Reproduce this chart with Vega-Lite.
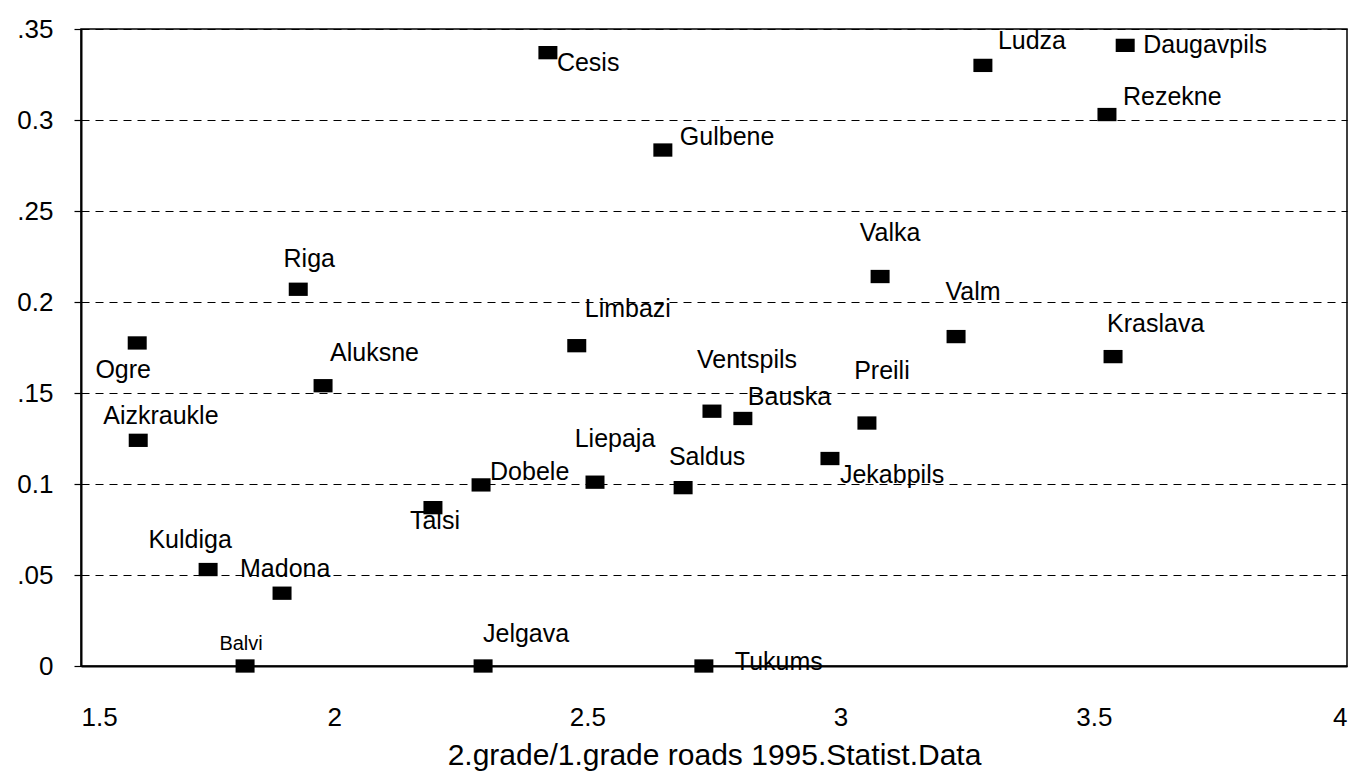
{
  "$schema": "https://vega.github.io/schema/vega-lite/v6.json",
  "width": 1266,
  "height": 637,
  "autosize": "none",
  "padding": {"left": 81, "top": 29, "right": 3, "bottom": 105},
  "background": "white",
  "config": {
    "view": {"stroke": "black", "strokeWidth": 1.5},
    "font": "Liberation Sans",
    "text": {"font": "Liberation Sans", "fontSize": 25, "color": "black"}
  },
  "data": {
    "values": [
      {"name": "Cesis", "x": 2.422, "y": 0.337},
      {"name": "Ludza", "x": 3.281, "y": 0.330},
      {"name": "Daugavpils", "x": 3.562, "y": 0.341},
      {"name": "Rezekne", "x": 3.526, "y": 0.303},
      {"name": "Gulbene", "x": 2.649, "y": 0.2835},
      {"name": "Valka", "x": 3.078, "y": 0.214},
      {"name": "Riga", "x": 1.929, "y": 0.207},
      {"name": "Valm", "x": 3.228, "y": 0.181},
      {"name": "Kraslava", "x": 3.538, "y": 0.170},
      {"name": "Ogre", "x": 1.611, "y": 0.1775},
      {"name": "Limbazi", "x": 2.479, "y": 0.176},
      {"name": "Aluksne", "x": 1.978, "y": 0.154},
      {"name": "Ventspils", "x": 2.746, "y": 0.140},
      {"name": "Bauska", "x": 2.807, "y": 0.136},
      {"name": "Preili", "x": 3.052, "y": 0.1335},
      {"name": "Aizkraukle", "x": 1.613, "y": 0.124},
      {"name": "Jekabpils", "x": 2.979, "y": 0.114},
      {"name": "Dobele", "x": 2.290, "y": 0.0995},
      {"name": "Liepaja", "x": 2.515, "y": 0.101},
      {"name": "Saldus", "x": 2.689, "y": 0.098},
      {"name": "Talsi", "x": 2.195, "y": 0.087},
      {"name": "Kuldiga", "x": 1.751, "y": 0.053},
      {"name": "Madona", "x": 1.897, "y": 0.040},
      {"name": "Balvi", "x": 1.824, "y": 0.0},
      {"name": "Jelgava", "x": 2.294, "y": 0.0},
      {"name": "Tukums", "x": 2.730, "y": 0.0}
    ]
  },
  "encoding": {
    "x": {
      "field": "x", "type": "quantitative",
      "scale": {"domain": [1.5, 4], "nice": false, "zero": false},
      "axis": {
        "values": [1.5, 2, 2.5, 3, 3.5, 4],
        "format": "~g",
        "grid": false, "ticks": false, "tickSize": 0,
        "domain": true, "domainColor": "black", "domainWidth": 2,
        "labelFontSize": 26, "labelColor": "black", "labelPadding": 38,
        "labelFont": "Liberation Sans",
        "title": "2.grade/1.grade roads 1995.Statist.Data",
        "titleFontSize": 30, "titleFontWeight": "normal", "titleColor": "black",
        "titleFont": "Liberation Sans", "titlePadding": 10
      }
    },
    "y": {
      "field": "y", "type": "quantitative",
      "scale": {"domain": [0, 0.35], "nice": false},
      "axis": {
        "values": [0, 0.05, 0.1, 0.15, 0.2, 0.25, 0.3, 0.35],
        "grid": true, "gridDash": [8, 6], "gridColor": "black", "gridWidth": 1.2,
        "ticks": true, "tickSize": 7, "tickColor": "black", "tickWidth": 1.2,
        "domain": true, "domainColor": "black", "domainWidth": 2,
        "labelFontSize": 26, "labelColor": "black", "labelPadding": 21,
        "labelFont": "Liberation Sans",
        "labelExpr": "datum.value == 0 ? '0' : (round(datum.value*100) % 10 == 5 ? replace(format(datum.value, '.2f'), '0.', '.') : format(datum.value, '.1f'))",
        "title": null
      }
    }
  },
  "layer": [
    {
      "mark": {"type": "point", "shape": "M-1,-0.7H1V0.7H-1Z", "size": 361, "filled": true, "color": "black", "opacity": 1, "strokeWidth": 0}
    },
    {"transform": [{"filter": "datum.name == 'Cesis'"}], "mark": {"type": "text", "align": "left", "baseline": "alphabetic", "dx": 9, "dy": 18}, "encoding": {"text": {"field": "name"}}},
    {"transform": [{"filter": "datum.name == 'Ludza'"}], "mark": {"type": "text", "align": "left", "baseline": "alphabetic", "dx": 15, "dy": -16}, "encoding": {"text": {"field": "name"}}},
    {"transform": [{"filter": "datum.name == 'Daugavpils'"}], "mark": {"type": "text", "align": "left", "baseline": "alphabetic", "dx": 18, "dy": 8}, "encoding": {"text": {"field": "name"}}},
    {"transform": [{"filter": "datum.name == 'Rezekne'"}], "mark": {"type": "text", "align": "left", "baseline": "alphabetic", "dx": 16, "dy": -10}, "encoding": {"text": {"field": "name"}}},
    {"transform": [{"filter": "datum.name == 'Gulbene'"}], "mark": {"type": "text", "align": "left", "baseline": "alphabetic", "dx": 17, "dy": -5}, "encoding": {"text": {"field": "name"}}},
    {"transform": [{"filter": "datum.name == 'Valka'"}], "mark": {"type": "text", "align": "center", "baseline": "alphabetic", "dx": 10, "dy": -36}, "encoding": {"text": {"field": "name"}}},
    {"transform": [{"filter": "datum.name == 'Riga'"}], "mark": {"type": "text", "align": "center", "baseline": "alphabetic", "dx": 11, "dy": -22}, "encoding": {"text": {"field": "name"}}},
    {"transform": [{"filter": "datum.name == 'Valm'"}], "mark": {"type": "text", "align": "center", "baseline": "alphabetic", "dx": 17, "dy": -37}, "encoding": {"text": {"field": "name"}}},
    {"transform": [{"filter": "datum.name == 'Kraslava'"}], "mark": {"type": "text", "align": "left", "baseline": "alphabetic", "dx": -6, "dy": -25}, "encoding": {"text": {"field": "name"}}},
    {"transform": [{"filter": "datum.name == 'Ogre'"}], "mark": {"type": "text", "align": "center", "baseline": "alphabetic", "dx": -14, "dy": 35}, "encoding": {"text": {"field": "name"}}},
    {"transform": [{"filter": "datum.name == 'Limbazi'"}], "mark": {"type": "text", "align": "left", "baseline": "alphabetic", "dx": 8, "dy": -29}, "encoding": {"text": {"field": "name"}}},
    {"transform": [{"filter": "datum.name == 'Aluksne'"}], "mark": {"type": "text", "align": "left", "baseline": "alphabetic", "dx": 7, "dy": -25}, "encoding": {"text": {"field": "name"}}},
    {"transform": [{"filter": "datum.name == 'Ventspils'"}], "mark": {"type": "text", "align": "center", "baseline": "alphabetic", "dx": 35, "dy": -43}, "encoding": {"text": {"field": "name"}}},
    {"transform": [{"filter": "datum.name == 'Bauska'"}], "mark": {"type": "text", "align": "left", "baseline": "alphabetic", "dx": 5, "dy": -13}, "encoding": {"text": {"field": "name"}}},
    {"transform": [{"filter": "datum.name == 'Preili'"}], "mark": {"type": "text", "align": "center", "baseline": "alphabetic", "dx": 15, "dy": -44}, "encoding": {"text": {"field": "name"}}},
    {"transform": [{"filter": "datum.name == 'Aizkraukle'"}], "mark": {"type": "text", "align": "left", "baseline": "alphabetic", "dx": -35, "dy": -16}, "encoding": {"text": {"field": "name"}}},
    {"transform": [{"filter": "datum.name == 'Jekabpils'"}], "mark": {"type": "text", "align": "left", "baseline": "alphabetic", "dx": 10, "dy": 24}, "encoding": {"text": {"field": "name"}}},
    {"transform": [{"filter": "datum.name == 'Dobele'"}], "mark": {"type": "text", "align": "left", "baseline": "alphabetic", "dx": 9, "dy": -5}, "encoding": {"text": {"field": "name"}}},
    {"transform": [{"filter": "datum.name == 'Liepaja'"}], "mark": {"type": "text", "align": "center", "baseline": "alphabetic", "dx": 20, "dy": -35}, "encoding": {"text": {"field": "name"}}},
    {"transform": [{"filter": "datum.name == 'Saldus'"}], "mark": {"type": "text", "align": "center", "baseline": "alphabetic", "dx": 24, "dy": -23}, "encoding": {"text": {"field": "name"}}},
    {"transform": [{"filter": "datum.name == 'Talsi'"}], "mark": {"type": "text", "align": "center", "baseline": "alphabetic", "dx": 2, "dy": 21}, "encoding": {"text": {"field": "name"}}},
    {"transform": [{"filter": "datum.name == 'Kuldiga'"}], "mark": {"type": "text", "align": "center", "baseline": "alphabetic", "dx": -18, "dy": -22}, "encoding": {"text": {"field": "name"}}},
    {"transform": [{"filter": "datum.name == 'Madona'"}], "mark": {"type": "text", "align": "left", "baseline": "alphabetic", "dx": -42, "dy": -16}, "encoding": {"text": {"field": "name"}}},
    {"transform": [{"filter": "datum.name == 'Balvi'"}], "mark": {"type": "text", "align": "center", "baseline": "alphabetic", "dx": -4, "dy": -16, "fontSize": 20}, "encoding": {"text": {"field": "name"}}},
    {"transform": [{"filter": "datum.name == 'Jelgava'"}], "mark": {"type": "text", "align": "center", "baseline": "alphabetic", "dx": 43, "dy": -24}, "encoding": {"text": {"field": "name"}}},
    {"transform": [{"filter": "datum.name == 'Tukums'"}], "mark": {"type": "text", "align": "left", "baseline": "alphabetic", "dx": 31, "dy": 4}, "encoding": {"text": {"field": "name"}}}
  ]
}
